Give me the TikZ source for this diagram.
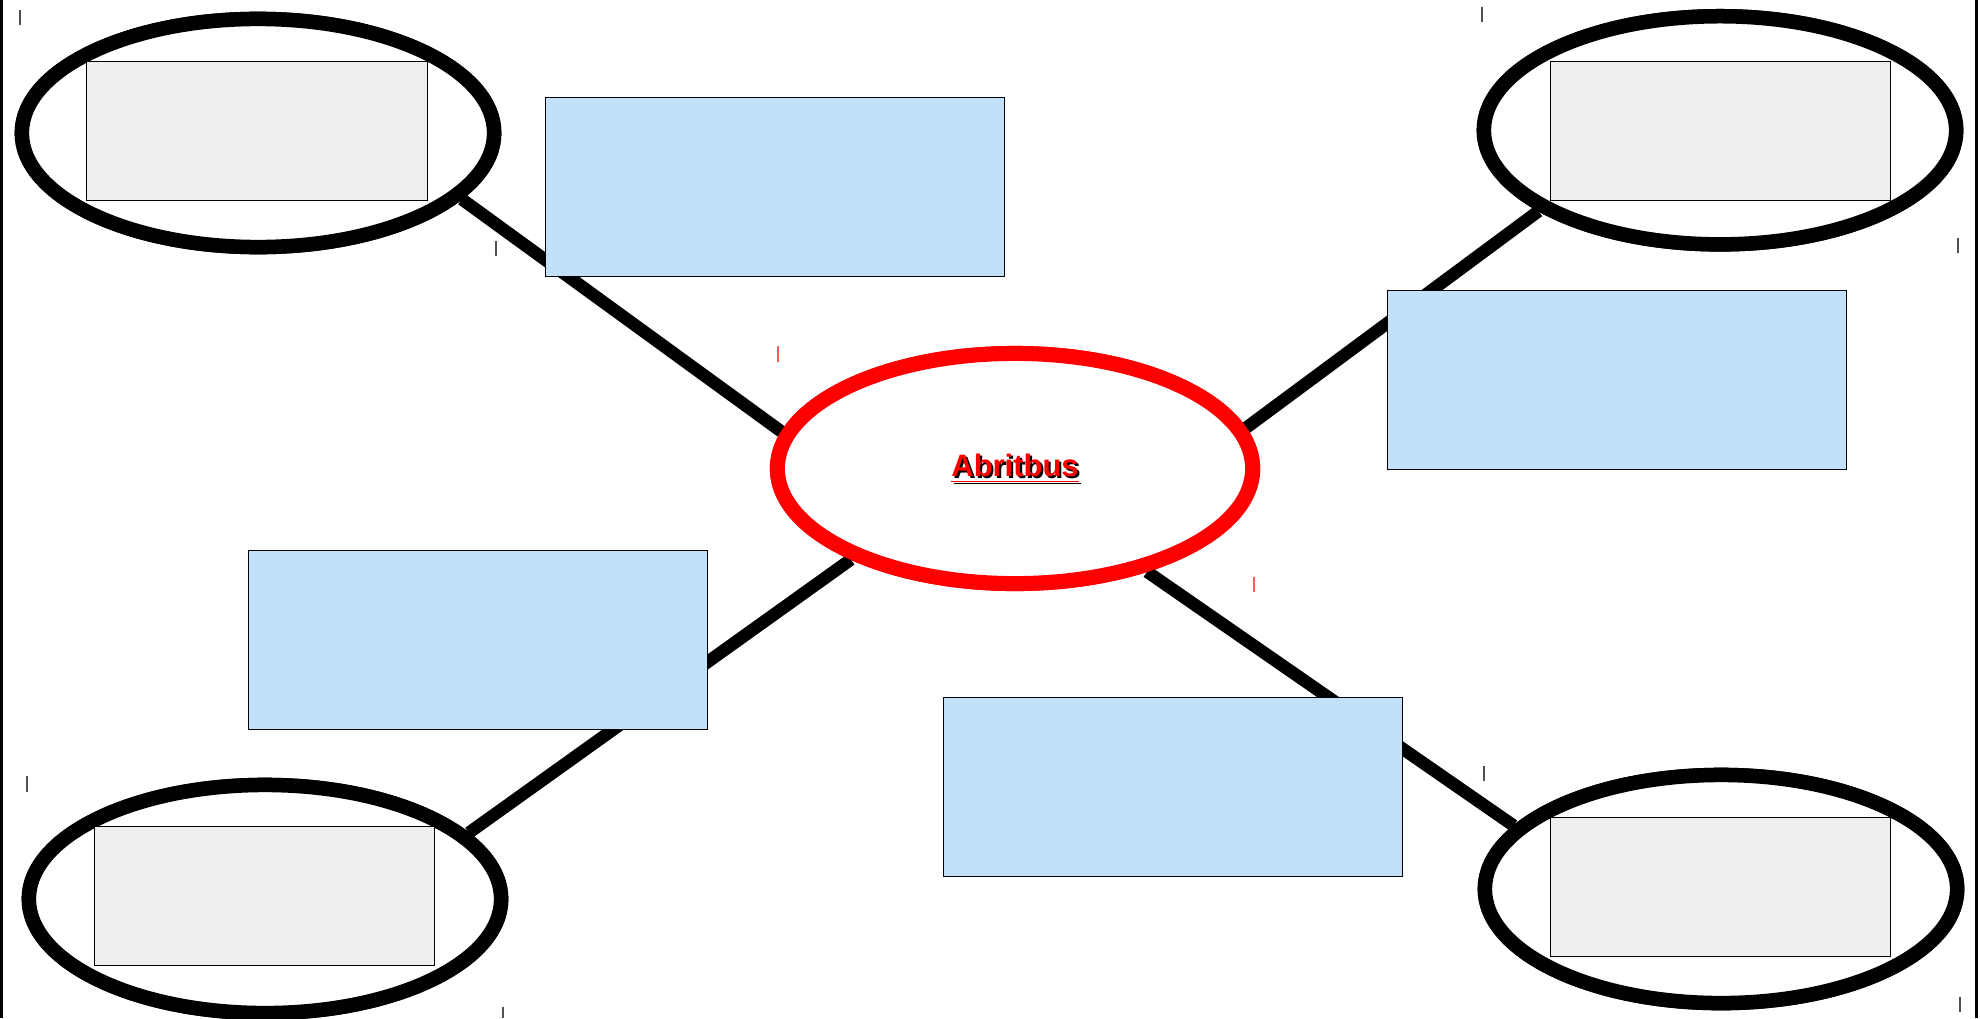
\documentclass[tikz,border=0pt]{standalone}
\usepackage{fontspec}
\setmainfont{Liberation Sans}
\usetikzlibrary{shapes.geometric}
\definecolor{bluebox}{RGB}{194,224,250}
\definecolor{graybox}{RGB}{238,238,238}
\definecolor{tickgray}{RGB}{80,80,80}
\definecolor{tickred}{RGB}{255,90,90}
\newcommand{\abrlabel}{\fontsize{8.8}{10}\selectfont\bfseries\underline{Abritbus}}
\tikzset{
  outerell/.style={ellipse, draw=black, fill=white, line width=0.145cm, inner sep=0pt, minimum width=4.72cm, minimum height=2.28cm},
  centerell/.style={ellipse, draw=red, fill=white, line width=0.15cm, inner sep=0pt, minimum width=4.75cm, minimum height=2.30cm},
  graybox/.style={draw=black, fill=graybox, line width=0.01cm, inner sep=0pt, minimum width=3.40cm, minimum height=1.38cm},
  bluebox/.style={draw=black, fill=bluebox, line width=0.01cm, inner sep=0pt, minimum width=4.58cm, minimum height=1.78cm},
  connector/.style={draw=black, line width=0.125cm},
  frameline/.style={draw=black, line width=0.03cm},
  tickmark/.style={draw=tickgray, line width=0.012cm},
  redtick/.style={draw=tickred, line width=0.012cm}
}
\begin{document}
\begin{tikzpicture}[x=0.01cm,y=-0.01cm]
\useasboundingbox[fill=white] (0,0) rectangle (1980,1018);
% ellipse nodes (placed first to define anchors, redrawn on top later)
\node[outerell] (tl) at (258,133) {};
\node[outerell] (tr) at (1720,130.3) {};
\node[outerell] (bl) at (265,899) {};
\node[outerell] (br) at (1721,889) {};
\node[centerell] (c) at (1015,468.5) {};
% connectors
\draw[connector] (tl.-18) -- (c.171);
\draw[connector] (tr.-156) -- (c.10.6);
\draw[connector] (bl.18) -- (c.-151);
\draw[connector] (br.163) -- (c.-38);
% ellipses on top of connectors
\node[outerell] (tl2) at (tl) {};
\node[outerell] (tr2) at (tr) {};
\node[outerell] (bl2) at (bl) {};
\node[outerell] (br2) at (br) {};
\node[centerell] (c2) at (c) {};
% gray boxes
\node[graybox] (gtl) at (257,131) {};
\node[graybox] (gtr) at (1720.5,131) {};
\node[graybox] (gbl) at (264.5,896) {};
\node[graybox] (gbr) at (1720.5,887) {};
% blue boxes
\node[bluebox] (b1) at (775,187) {};
\node[bluebox] (b2) at (1617,380) {};
\node[bluebox] (b3) at (478,640) {};
\node[bluebox] (b4) at (1173,787) {};
% label
\node[text=black, inner sep=0pt] (shadow) at ([xshift=0.022cm,yshift=-0.022cm]c.center) {\abrlabel};
\node[text=red, inner sep=0pt] (lab) at (c.center) {\abrlabel};
% frame lines
\draw[frameline] (1.3,0) -- (1.3,1018);
\draw[frameline] (1976.7,0) -- (1976.7,1018);
% small ticks
\draw[tickmark] (20,10) -- (20,25);
\draw[tickmark] (1482,7) -- (1482,22);
\draw[tickmark] (1958,238) -- (1958,253);
\draw[tickmark] (496,241) -- (496,256);
\draw[tickmark] (27,776) -- (27,792);
\draw[tickmark] (503,1007) -- (503,1018);
\draw[tickmark] (1960,997) -- (1960,1012);
\draw[tickmark] (1484,766) -- (1484,781);
\draw[redtick] (778,346) -- (778,362);
\draw[redtick] (1254,577) -- (1254,592);
\end{tikzpicture}
\end{document}
